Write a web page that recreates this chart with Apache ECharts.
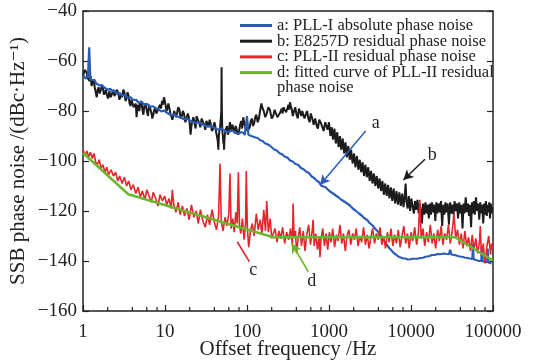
<!DOCTYPE html>
<html><head><meta charset="utf-8">
<script src="https://cdn.jsdelivr.net/npm/echarts@6/dist/echarts.min.js"></script>
<style>html,body{margin:0;padding:0;background:#fff}#c{width:545px;height:364px}</style>
</head><body><div id="c"></div>
<script>
const FONT = "'Liberation Serif','DejaVu Serif',serif";
const xTickLabels = [1, 10, 100, 1000, 10000, 100000];
const xMinorTicks = [2,4,6,8,20,40,60,80,200,400,600,800,2000,4000,6000,8000,20000,40000,60000,80000];
const yTicks = [-160,-140,-120,-100,-80,-60,-40];
const names = ['a: PLL-I absolute phase noise','b: E8257D residual phase noise','c: PLL-II residual phase noise','d: fitted curve of PLL-II residual phase noise'];

const seriesA = [[1,-65.6],[1.08,-67],[1.15,-66],[1.19,-54.5],[1.23,-67.5],[1.3,-68],[1.38,-67.6],[1.45,-69],[1.52,-68.6],[1.6,-69.8],[1.7,-69.6],[1.8,-70.5],[1.9,-70.3],[2.0,-71.5],[2.15,-71.1],[2.3,-72.2],[2.45,-71.9],[2.6,-73.2],[2.8,-72.8],[3.0,-73.8],[3.25,-73.6],[3.5,-74.8],[3.8,-74.5],[4.1,-75.6],[4.45,-75.5],[4.8,-76.8],[5.2,-76.4],[5.6,-77.5],[6.1,-77.2],[6.6,-78.4],[7.2,-78.1],[7.8,-79],[8.4,-79.4],[9,-80.2],[9.7,-79.8],[10.5,-80.6],[11.2,-81.2],[12,-81.8],[13,-81.3],[14,-82.2],[15.5,-82.6],[17,-83.3],[18.5,-83],[20,-83.8],[22,-84.4],[24,-84.8],[26,-84.5],[28,-85.1],[30.5,-85.8],[33,-86.2],[36,-85.9],[39,-86.5],[42,-87.2],[45,-87.4],[48,-87],[52,-87.6],[56,-88.3],[60,-88.4],[65,-87.9],[70,-88.2],[75,-89],[80,-89.1],[85,-88.4],[90,-88.7],[94,-89.6],[98,-89.3],[100,-82],[104,-89.5],[110,-89],[115,-90.1],[120,-90],[127,-90.6],[135,-90.8],[145,-91.7],[155,-92],[165,-92.9],[175,-93.2],[187,-93.7],[200,-94.5],[215,-95.4],[230,-95.8],[250,-96.9],[270,-97.4],[290,-98.3],[310,-98.6],[335,-99.8],[360,-100.2],[390,-101.2],[420,-101.5],[455,-102.8],[490,-103.3],[530,-104.3],[570,-104.8],[615,-106.2],[660,-106.8],[710,-107.9],[760,-108.5],[800,-109.8],[850,-110.2],[900,-110.4],[950,-110.8],[1020,-112.1],[1100,-112.8],[1200,-113.7],[1300,-114.5],[1400,-115.4],[1500,-116],[1650,-116.9],[1800,-117.8],[1950,-119],[2100,-119.8],[2300,-120.9],[2500,-121.8],[2700,-122.9],[2900,-123.5],[3150,-124.9],[3400,-125.8],[3650,-127.1],[3900,-128],[4200,-129.6],[4500,-130.8],[4800,-132.4],[5100,-133.6],[5450,-134.9],[5800,-135.8],[6200,-136.9],[6600,-137.5],[7000,-138.2],[7500,-138.6],[8000,-138.9],[8500,-139],[9100,-139.4],[9800,-139.3],[10400,-139.1],[11000,-139],[12000,-139.1],[13000,-138.8],[14000,-138.7],[15000,-138.3],[16500,-138.1],[18000,-137.6],[19500,-137.6],[21000,-137.2],[23000,-137.3],[25000,-137],[27000,-137.2],[29000,-137.3],[30000,-135.5],[31000,-137.4],[32500,-137.3],[34000,-137.6],[36500,-137.9],[39000,-138.2],[42000,-138.3],[45000,-138.6],[48500,-138.8],[52000,-139],[56000,-139.2],[57000,-133],[58000,-139.3],[62000,-139.6],[65000,-139.7],[68000,-140],[72000,-140],[73000,-134],[75000,-140.2],[80000,-140.4],[85000,-140.5],[86000,-135],[88000,-140.6],[92000,-140.8],[96000,-141]];

const seriesB = [[1,-66],[1.05,-63.5],[1.1,-64.5],[1.15,-67],[1.2,-68],[1.24,-66],[1.27,-70],[1.31,-68.5],[1.35,-67.5],[1.39,-70.5],[1.42,-72],[1.47,-74.5],[1.51,-71.5],[1.55,-70.5],[1.6,-73],[1.65,-72.5],[1.7,-70],[1.75,-71],[1.8,-73.5],[1.85,-74],[1.9,-71.5],[1.95,-73.5],[2.02,-75],[2.1,-72],[2.17,-74.5],[2.25,-75],[2.3,-72.5],[2.35,-71.5],[2.42,-74],[2.5,-74],[2.6,-71.5],[2.7,-73],[2.78,-75.5],[2.85,-76],[2.92,-73.5],[3.0,-74.5],[3.1,-71.5],[3.2,-72.5],[3.3,-76],[3.4,-75],[3.5,-72.5],[3.6,-74],[3.7,-77],[3.8,-78],[3.9,-75.5],[4.0,-76],[4.15,-78.5],[4.3,-79],[4.4,-77],[4.5,-82.5],[4.6,-79],[4.7,-77.5],[4.85,-80],[5.0,-77],[5.15,-76],[5.3,-79.5],[5.45,-81.5],[5.6,-78],[5.8,-77],[6.0,-80],[6.2,-82],[6.4,-77.5],[6.6,-79],[6.8,-80.5],[7.0,-83],[7.2,-81.5],[7.4,-79.5],[7.6,-78.5],[7.85,-81],[8.1,-80],[8.4,-78.5],[8.7,-77.5],[8.95,-79],[9.2,-76],[9.45,-77.5],[9.7,-74.5],[9.95,-76],[10.2,-76.5],[10.45,-80],[10.7,-79],[11,-77],[11.3,-77.5],[11.65,-81],[12,-80.5],[12.3,-83.5],[12.6,-82],[12.95,-80],[13.3,-79.5],[13.65,-82.5],[14,-81],[14.5,-78.5],[15,-79.5],[15.5,-83],[16,-82],[16.5,-80],[17,-81],[17.7,-84.5],[18.4,-84],[19,-81],[19.5,-82.5],[20,-85],[20.5,-89.5],[21,-86],[21.5,-84],[22.2,-82.5],[23,-85],[23.6,-87],[24.3,-82],[25.1,-83.5],[26,-84.5],[27,-86.5],[28,-83],[29,-82.5],[30,-85.5],[31,-87.5],[32,-84],[33,-85],[34,-86.5],[35,-83.5],[36,-85],[37.4,-88],[38.8,-87],[40,-84.5],[41,-86],[42,-88.5],[43,-90],[44,-92],[44.7,-95.5],[45.4,-90],[46,-88],[47,-86.5],[48,-87],[48.6,-80],[49,-62.5],[49.4,-80],[50,-88],[50.8,-90],[51.5,-93],[52,-90],[52.5,-95.5],[53.2,-91],[54,-89],[55.5,-87],[57,-86],[58.5,-89.5],[60,-88],[61,-86],[62,-84.5],[63.5,-87],[65,-88],[66.5,-85.5],[68,-85],[69.5,-87.5],[71,-89],[73,-86],[75,-86.5],[77.5,-89.5],[80,-88],[82.5,-85.5],[85,-84],[87.5,-87],[90,-82.5],[92.5,-85],[95,-86],[97.5,-88],[100,-84.5],[104,-87.5],[108,-86.5],[111,-84],[115,-83],[118,-86],[122,-85],[126,-82.5],[130,-81.5],[135,-84.5],[140,-83],[145,-79.5],[150,-77],[155,-79],[160,-80],[167,-82.5],[174,-81],[182,-78.5],[190,-79.5],[200,-83],[209,-82],[217,-79.5],[225,-80],[235,-82.5],[245,-83],[255,-80.5],[265,-79],[272,-81],[278,-78.5],[288,-79.5],[300,-80.5],[310,-79],[320,-77.5],[328,-79.5],[334,-76.5],[342,-78],[350,-79],[362,-82],[375,-80],[388,-78.5],[402,-81.5],[416,-83],[430,-79],[445,-80.5],[460,-82],[472,-80],[485,-79.5],[502,-83],[520,-81.5],[540,-80],[560,-83],[580,-84.5],[600,-81],[625,-83],[650,-85.5],[678,-83],[707,-85.8],[733,-87],[760,-83.5],[790,-84.5],[820,-86],[860,-88],[900,-84.5],[930,-86],[960,-87.5],[1000,-84.5],[1040,-90],[1080,-86.5],[1120,-91.5],[1165,-87],[1210,-93],[1260,-88.5],[1310,-94.5],[1360,-90],[1410,-95.5],[1470,-91],[1530,-97],[1590,-92.5],[1650,-98.5],[1720,-94],[1790,-99.5],[1860,-95.5],[1940,-101],[2020,-97],[2100,-102.5],[2190,-98],[2280,-103.5],[2370,-99.5],[2470,-104.5],[2570,-100.5],[2670,-106],[2780,-101.5],[2890,-106.5],[3010,-102.5],[3130,-108],[3260,-104],[3390,-109],[3530,-105],[3670,-110],[3820,-106],[3980,-111],[4140,-107],[4310,-112],[4480,-108],[4660,-113.5],[4850,-109],[5050,-114],[5250,-109.5],[5460,-115],[5680,-110.5],[5910,-116],[6150,-111],[6400,-117],[6660,-112],[6930,-117.5],[7210,-112.5],[7500,-118],[7800,-113],[8100,-118.5],[8400,-113.5],[8600,-109],[8800,-116],[9100,-119],[9400,-114],[9750,-120],[10100,-115],[10500,-118.5],[10850,-121],[11200,-116],[11600,-119.5],[12000,-115.5],[12400,-121],[12800,-117],[13200,-120.5],[13600,-125],[14000,-117],[14500,-121.5],[15000,-116.5],[15500,-121],[16000,-117.5],[16500,-123],[17000,-117],[17500,-121.5],[18000,-116.5],[18600,-120.5],[19200,-117.5],[19800,-124],[20400,-116.5],[21000,-121],[21700,-117],[22500,-120.5],[23200,-116],[24000,-126],[24800,-117.5],[25500,-121.5],[26300,-116.5],[27000,-120.5],[28000,-117],[29000,-125.5],[30000,-116.5],[31000,-121],[32000,-117.5],[33000,-121.5],[34000,-116],[35000,-120],[36300,-117],[37500,-123],[38700,-116.5],[40000,-121],[41200,-117.5],[42500,-127],[43800,-117],[45000,-121],[46500,-114.5],[48000,-120.5],[49500,-117],[51000,-122],[52500,-117.5],[54000,-126.5],[55500,-116.5],[57000,-121],[58500,-116],[60000,-121.5],[62000,-114.5],[64000,-120],[66000,-117],[68000,-123.5],[70000,-116.5],[72000,-121],[74000,-117.5],[76000,-125],[78000,-117],[80000,-121.5],[82000,-116],[84000,-122],[86000,-117.5],[88000,-120.5],[90000,-116.5],[92000,-123],[94000,-117],[96000,-121],[98000,-118.5]];

const seriesC = [[1,-95.5],[1.06,-97.5],[1.12,-96],[1.17,-98.5],[1.23,-96.5],[1.3,-99],[1.36,-97],[1.43,-100.5],[1.5,-101.5],[1.58,-99.5],[1.66,-103],[1.75,-101.5],[1.85,-104.5],[1.95,-102.5],[2.05,-105.5],[2.2,-103.5],[2.35,-106],[2.5,-104.5],[2.65,-108],[2.8,-106],[3.0,-109],[3.2,-106.5],[3.4,-110],[3.6,-108],[3.85,-111.5],[4.1,-109.5],[4.4,-113],[4.7,-110.5],[5.0,-114.5],[5.3,-112],[5.7,-115.5],[6.0,-111.5],[6.4,-114],[6.8,-116.5],[7.2,-112.5],[7.7,-115],[8.2,-118],[8.7,-113.5],[9.3,-116],[9.9,-114],[10.5,-117.5],[11.2,-115],[11.9,-119],[12.3,-111.5],[12.8,-117.5],[13.6,-120.5],[14.5,-116.5],[15.3,-121.5],[16.3,-118],[17.3,-122],[18.5,-119],[19.7,-123.5],[21,-117.5],[22.5,-122.5],[24,-120],[25.5,-125],[27,-119.5],[29,-124],[31,-126.5],[33,-121.5],[35,-125.5],[37.5,-119.5],[40,-124.5],[42.5,-127.5],[45,-122],[46.9,-101],[48.5,-124],[51,-128],[54,-122.5],[57,-126],[60,-121],[62,-105],[64,-127],[67,-123],[70,-128.5],[73,-120.5],[76,-125],[78.5,-104.5],[81,-126],[84,-129],[88,-123],[92,-131.5],[96,-125],[98,-104],[101,-127],[105,-134.5],[110,-128],[116,-125],[122,-130],[130,-121],[137,-127.5],[145,-123.5],[152,-129.5],[160,-119.5],[168,-128],[174,-116],[182,-128.5],[192,-123],[200,-131],[209,-131.5],[220,-127],[232,-132.5],[245,-128],[258,-131],[272,-126.5],[288,-133],[305,-128.5],[322,-131.5],[340,-127],[358,-133.5],[365,-117],[375,-130],[390,-128],[402,-137],[420,-131],[440,-126.5],[462,-134],[485,-128],[510,-136],[535,-129.5],[565,-125.5],[595,-133.5],[625,-127.5],[640,-123.5],[660,-134],[690,-129],[725,-135.5],[760,-130],[776,-138.5],[800,-131],[840,-127],[880,-134],[920,-129],[965,-135.5],[1010,-128.5],[1060,-132.5],[1110,-127],[1170,-134.5],[1230,-129.5],[1290,-132],[1360,-125.5],[1430,-133],[1500,-129],[1580,-136],[1660,-130],[1750,-127.5],[1840,-133.5],[1940,-129],[2040,-131.5],[2150,-127],[2260,-134],[2380,-130],[2500,-132.5],[2640,-126.5],[2780,-133.5],[2930,-129.5],[3080,-135],[3240,-130.5],[3410,-127],[3590,-133],[3780,-129],[3980,-131.5],[4190,-126.5],[4410,-133.5],[4640,-130],[4890,-135],[5150,-128.5],[5420,-132.5],[5700,-127],[6000,-134],[6320,-129.5],[6650,-133],[7000,-127.5],[7370,-134.5],[7760,-130],[8170,-126],[8600,-133],[9050,-129],[9530,-135],[10000,-128.5],[10500,-132],[11100,-126.5],[11700,-133.5],[12300,-129],[12800,-115.5],[13300,-131],[14000,-127],[14700,-134],[15500,-128.5],[16300,-132.5],[17200,-125.5],[18100,-133],[19000,-129],[20000,-135],[21100,-127.5],[22200,-132],[23300,-126],[24500,-133.5],[25800,-129],[27200,-131.5],[28600,-125.5],[30100,-133],[31700,-128.5],[33400,-121],[35100,-131],[37000,-127.5],[38900,-133.5],[41000,-129],[43100,-135],[45400,-128],[47800,-134],[50300,-130.5],[53000,-136],[55800,-129.5],[58700,-135.5],[61800,-131],[65100,-137],[68500,-132],[70000,-126],[72200,-138],[76000,-133],[80000,-141],[84300,-134],[88700,-130],[93400,-137.5],[96000,-133],[98000,-135]];

const seriesD = [[1,-96.8],[3.57,-113.3],[209,-130.5],[34400,-130.5],[100000,-139.8]];

// annotation arrows: [start, end] in data space; labels [text, f, dB]
const annA = [[2800,-88],[777,-109.6]];
const annB = [[14800,-99.3],[8070,-107.6]];
const annC = [[107,-140.3],[76,-132.3]];
const annD = [[560,-144.3],[350,-132.9]];
const annLabels = [['a',3710,-84.9],['b',18200,-97.6],['c',119,-143.9],['d',615,-148.3]];

const colors = ['#2b5cb8','#1c1c1c','#e3262b','#6cb52e'];

function arrowLine(seg, color, arrow) {
  return {
    silent: true, animation: false,
    symbol: arrow ? ['none','arrow'] : ['none','none'],
    symbolSize: [8, 10],
    lineStyle: {color: color, width: 1.5, type: 'solid'},
    label: {show: false},
    data: [[{coord: seg[0]}, {coord: seg[1]}]]
  };
}

const chart = echarts.init(document.getElementById('c'), null, {renderer: 'canvas'});
const axisLine = {show: true, lineStyle: {color: '#222', width: 1.5}};
chart.setOption({
  animation: false,
  backgroundColor: '#fff',
  color: colors,
  grid: {left: 83, right: 52, top: 11, bottom: 53, containLabel: false, outerBoundsMode: 'none'},
  legend: {
    orient: 'vertical', left: 240, top: 17, padding: 0, itemGap: -1.3,
    itemWidth: 32, itemHeight: 3, icon: 'rect',
    data: names,
    formatter: n => n === names[3] ? 'd: fitted curve of PLL-II residual' : n,
    textStyle: {fontFamily: FONT, fontSize: 16.5, color: '#222', lineHeight: 15},
    selectedMode: false
  },
  xAxis: [{
    type: 'log', logBase: 10, min: 1, max: 100000,
    name: 'Offset frequency /Hz', nameLocation: 'middle', nameGap: 28, nameMoveOverlap: false,
    nameTextStyle: {fontFamily: FONT, fontSize: 21, color: '#222'},
    axisLine: axisLine,
    axisTick: {show: true, inside: true, length: 6, lineStyle: {color: '#222', width: 1.2}},
    axisLabel: {fontFamily: FONT, fontSize: 19, color: '#222', margin: 12,
      formatter: v => xTickLabels.indexOf(Math.round(v)) >= 0 ? String(Math.round(v)) : ''},
    splitLine: {show: false}
  }, {
    type: 'log', logBase: 10, min: 1, max: 100000, position: 'top',
    axisLine: axisLine, axisTick: {show: false}, axisLabel: {show: false}, splitLine: {show: false}
  }],
  yAxis: [{
    type: 'value', min: -160, max: -40, interval: 20,
    name: 'SSB phase noise /(dBc\u00b7Hz\u207b\u00b9)', nameLocation: 'middle', nameGap: 54, nameMoveOverlap: false,
    nameTextStyle: {fontFamily: FONT, fontSize: 21, color: '#222'},
    axisLine: axisLine,
    axisTick: {show: true, inside: true, length: 6, lineStyle: {color: '#222', width: 1.2}},
    axisLabel: {fontFamily: FONT, fontSize: 19, color: '#222', margin: 6,
      formatter: v => v < 0 ? '\u2212' + Math.abs(v) : String(v)},
    splitLine: {show: false}
  }, {
    type: 'value', min: -160, max: -40, interval: 20, position: 'right',
    axisLine: axisLine,
    axisTick: {show: true, inside: true, length: 6, lineStyle: {color: '#222', width: 1.2}},
    axisLabel: {show: false}, splitLine: {show: false}
  }],
  series: [
    {name: names[1], type: 'line', data: seriesB, showSymbol: false, symbol: 'none', z: 2,
     lineStyle: {width: 2, color: colors[1]}, itemStyle: {color: colors[1]},
     markLine: arrowLine(annB, colors[1], true)},
    {name: names[0], type: 'line', data: seriesA, showSymbol: false, symbol: 'none', z: 3,
     lineStyle: {width: 2.2, color: colors[0]}, itemStyle: {color: colors[0]},
     markLine: arrowLine(annA, colors[0], true)},
    {name: names[2], type: 'line', data: seriesC, showSymbol: false, symbol: 'none', z: 3,
     lineStyle: {width: 1.6, color: colors[2]}, itemStyle: {color: colors[2]},
     markLine: arrowLine(annC, colors[2], false)},
    {name: names[3], type: 'line', data: seriesD, showSymbol: false, symbol: 'none', z: 4,
     lineStyle: {width: 2.5, color: colors[3]}, itemStyle: {color: colors[3]},
     markLine: arrowLine(annD, colors[3], true)},
    {type: 'custom', silent: true, z: 5, data: xMinorTicks.map(v => [v, -160]),
     renderItem: function (params, api) {
       const p = api.coord([api.value(0), api.value(1)]);
       return {type: 'line', shape: {x1: p[0], y1: p[1], x2: p[0], y2: p[1] - 4},
               style: {stroke: '#222', lineWidth: 1.2}};
     }}
  ]
});

const g = annLabels.map(l => {
  const p = chart.convertToPixel({xAxisIndex: 0, yAxisIndex: 0}, [l[1], l[2]]);
  return {type: 'text', x: p[0], y: p[1], silent: true,
          style: {text: l[0], font: '18px ' + FONT, fill: '#222', align: 'center', verticalAlign: 'middle'}};
});
g.push({type: 'text', left: 277, top: 79, silent: true,
        style: {text: 'phase noise', font: '16.5px ' + FONT, fill: '#222'}});
chart.setOption({graphic: g});
</script></body></html>
